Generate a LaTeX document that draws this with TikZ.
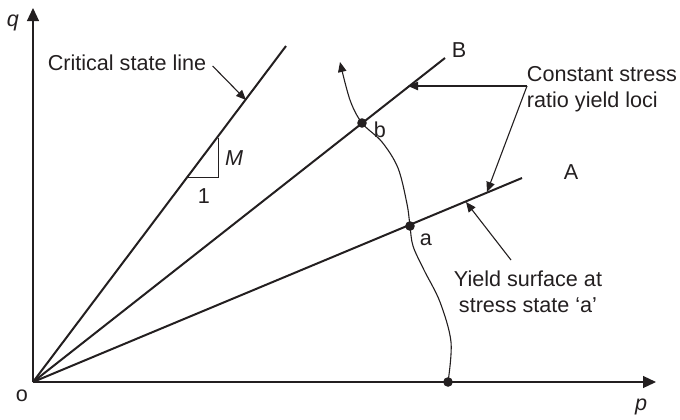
\documentclass[tikz,border=0pt]{standalone}
\usepackage{fontspec}
\setmainfont{Liberation Sans}
\usetikzlibrary{arrows.meta,calc}
\usepackage{xcolor}
\definecolor{ink}{HTML}{231F20}
\tikzset{
  axis/.style={-{Triangle[length=6.5pt,width=6pt]}, line width=0.6pt, draw=ink},
  locus/.style={line width=1pt, draw=ink},
  thin line/.style={line width=0.5pt, draw=ink},
  pointer/.style={-{Triangle[length=5pt,width=4.2pt]}, line width=0.55pt, draw=ink},
  label/.style={font=\fontsize{10.8}{13}\selectfont, text=ink, inner sep=0pt, align=left},
  dot/.style={circle, fill=ink, inner sep=0pt, minimum size=4.8pt}
}
\begin{document}
\begin{tikzpicture}[x=0.5pt, y=-0.5pt]
  \useasboundingbox (0,0) rectangle (680,419);
  \coordinate (o) at (33,382);
  \coordinate (qend) at (33,8);
  \coordinate (pend) at (656,382);
  \coordinate (cslend) at (286,46);
  \coordinate (Bend) at (445,58);
  \coordinate (Aend) at (522,178);

  \draw[axis] (o) -- (qend);
  \draw[axis] (o) -- (pend);
  \draw[locus] (o) -- (cslend);
  \draw[locus] (o) -- (Bend);
  \draw[locus] (o) -- (Aend);

  \node[label, font=\fontsize{10.8}{13}\selectfont\itshape] (qlab) at (13,23) {q};
  \node[label, font=\fontsize{10.8}{13}\selectfont\itshape] (plab) at (641,407) {p};
  \node[label] (olab) at (22,396) {o};

  % slope triangle on the critical state line
  \coordinate (t1) at (188,177);
  \coordinate (t2) at (218,177);
  \coordinate (t3) at (218,138);
  \draw[thin line] (t1) -- (t2) -- (t3);
  \node[label, font=\fontsize{10.8}{13}\selectfont\itshape] (Mlab) at (234,158) {M};
  \node[label] (onelab) at (204,196) {1};

  \node[dot] (a) at (410,226) {};
  \node[dot] (b) at (362,123) {};
  \node[dot] (c) at (448,382) {};
  \node[label] (alab) at (426,240) {a};
  \node[label] (blab) at (380,130) {b};
  \node[label] (Blab) at (459,50) {B};
  \node[label] (Alab) at (571,172) {A};

  \coordinate (ytip) at (340,62);
  \draw[pointer] plot[smooth, tension=0.55] coordinates {(c) (451,342) (440,302) (424,270) (413,246) (a) (407,204) (398,168) (382,142) (b) (350,100) (ytip)};

  \node[label] (csl) at (127,63) {Critical state line};
  \coordinate (csltip) at (246,100);
  \draw[pointer] (csl.east) ++(6,3) -- (csltip);

  \node[label] (loci) at (602,89) {Constant stress\\ratio yield loci};
  \coordinate (fork) at (527,86);
  \coordinate (Btip) at (408,86);
  \coordinate (Atip) at (487,192);
  \draw[pointer] (fork) -- (Btip);
  \draw[pointer] (fork) -- (Atip);

  \node[label, align=center] (ysurf) at (528,292) {Yield surface at\\stress state `a'};
  \coordinate (ytail) at (511,260);
  \coordinate (ysurftip) at (466,202);
  \draw[pointer] (ytail) -- (ysurftip);
\end{tikzpicture}
\end{document}
